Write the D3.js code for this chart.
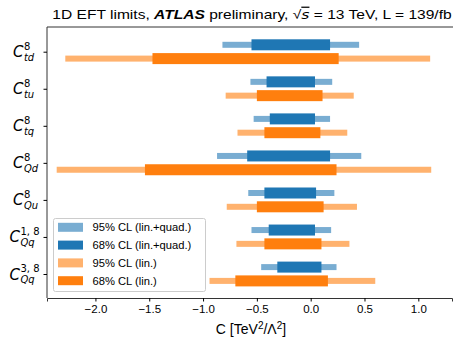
<!DOCTYPE html>
<html>
<head>
<meta charset="utf-8">
<script src="https://cdn.jsdelivr.net/npm/d3@7"></script>
<style>
  body { margin: 0; background: #fff; }
  svg { font-family: "Liberation Sans", Arial, sans-serif; }
</style>
</head>
<body>
<div id="chart"></div>
<script>
// operators, top to bottom: [base, superscript, subscript]
const operators = [
  ['C', '8', 'td'],
  ['C', '8', 'tu'],
  ['C', '8', 'tq'],
  ['C', '8', 'Qd'],
  ['C', '8', 'Qu'],
  ['C', '1, 8', 'Qq'],
  ['C', '3, 8', 'Qq']
];

// [low, high] intervals
const quad95 = [[-0.82, 0.45], [-0.56, 0.20], [-0.53, 0.18], [-0.87, 0.47], [-0.58, 0.22], [-0.55, 0.19], [-0.46, 0.24]];
const quad68 = [[-0.55, 0.18], [-0.41, 0.04], [-0.38, 0.04], [-0.59, 0.18], [-0.43, 0.05], [-0.39, 0.04], [-0.31, 0.10]];
const lin95  = [[-2.28, 1.11], [-0.79, 0.40], [-0.68, 0.34], [-2.36, 1.12], [-0.78, 0.43], [-0.69, 0.36], [-0.94, 0.60]];
const lin68  = [[-1.47, 0.26], [-0.50, 0.11], [-0.43, 0.09], [-1.54, 0.24], [-0.50, 0.12], [-0.43, 0.10], [-0.70, 0.16]];

const xTicks = [-2.0, -1.5, -1.0, -0.5, 0.0, 0.5, 1.0];

const legendItems = [
  { label: '95% CL (lin.+quad.)', color: '#79add2' },
  { label: '68% CL (lin.+quad.)', color: '#1f77b4' },
  { label: '95% CL (lin.)', color: '#ffb26e' },
  { label: '68% CL (lin.)', color: '#ff7f0e' }
];

const width = 453, height = 338;
const margin = { left: 47, right: 1, top: 27, bottom: 40 };

const svg = d3.select('#chart').append('svg')
  .attr('width', width)
  .attr('height', height);

const x = d3.scaleLinear()
  .domain([-2.45, 1.313])
  .range([margin.left, width - margin.right]);

const y = d3.scalePoint()
  .domain(d3.range(operators.length))
  .range([51.7, 274]);

const off = 6.9;

function drawBars(data, cls, color, dy, h) {
  svg.selectAll('.' + cls)
    .data(data)
    .enter()
    .append('rect')
    .attr('class', cls)
    .attr('x', d => x(d[0]))
    .attr('width', d => x(d[1]) - x(d[0]))
    .attr('y', (d, i) => y(i) + dy - h / 2)
    .attr('height', h)
    .attr('fill', color);
}

drawBars(quad95, 'q95', '#79add2', -off, 6);
drawBars(quad68, 'q68', '#1f77b4', -off, 11);
drawBars(lin95, 'l95', '#ffb26e', off, 6);
drawBars(lin68, 'l68', '#ff7f0e', off, 11);

// spines
svg.append('line')
  .attr('x1', margin.left).attr('x2', margin.left)
  .attr('y1', margin.top).attr('y2', height - margin.bottom)
  .attr('stroke', '#333').attr('stroke-width', 1);
svg.append('line')
  .attr('x1', margin.left).attr('x2', width)
  .attr('y1', margin.top).attr('y2', margin.top)
  .attr('stroke', '#333').attr('stroke-width', 1);

// x axis
const xAxis = svg.append('g')
  .attr('transform', `translate(0,${height - margin.bottom})`)
  .call(d3.axisBottom(x).tickValues(xTicks).tickSize(3.5).tickPadding(3)
    .tickFormat(d => d3.format('.1f')(d).replace('-', '\u2212')));
xAxis.select('.domain').attr('stroke', '#333').attr('stroke-width', 1);
xAxis.selectAll('.tick line').attr('stroke', '#000');
xAxis.selectAll('text').attr('font-size', 11.5).attr('fill', '#000')
  .attr('font-family', '"Liberation Sans", Arial, sans-serif');

// y axis ticks
const yAxis = svg.append('g')
  .attr('transform', `translate(${margin.left},0)`)
  .call(d3.axisLeft(y).tickSize(3.5).tickFormat(''));
yAxis.select('.domain').remove();
yAxis.selectAll('.tick line').attr('stroke', '#000');

// y labels: base letter, superscript and subscript as separate texts
operators.forEach((d, i) => {
  const supW = d[1].length > 1 ? 18 : 7;
  const subW = d[2].length * 7.3;
  const scriptW = Math.max(supW, subW);
  const sx = 38.5 - scriptW;
  const yy = y(i) + 5.5;
  svg.append('text')
    .attr('x', sx - 0.5).attr('y', yy)
    .attr('text-anchor', 'end')
    .attr('font-family', '"DejaVu Sans", sans-serif')
    .attr('font-style', 'italic')
    .attr('font-size', 15)
    .text(d[0]);
  svg.append('text')
    .attr('x', sx).attr('y', yy - 7.5)
    .attr('font-family', '"DejaVu Sans", sans-serif')
    .attr('font-size', 10)
    .text(d[1]);
  svg.append('text')
    .attr('x', sx).attr('y', yy + 3.5)
    .attr('font-family', '"DejaVu Sans", sans-serif')
    .attr('font-style', 'italic')
    .attr('font-size', 10)
    .text(d[2]);
});

// title (reference is horizontally stretched; fit it to its width)
const titleCx = 252;
const title = svg.append('text')
  .attr('x', titleCx)
  .attr('y', 19)
  .attr('text-anchor', 'middle')
  .attr('font-size', 12.5)
  .attr('fill', '#000');
title.append('tspan').text('1D EFT limits, ');
title.append('tspan').attr('font-weight', 'bold').attr('font-style', 'italic').text('ATLAS');
title.append('tspan').text(' preliminary, \u221A');
title.append('tspan').attr('font-family', '"DejaVu Sans", sans-serif').attr('font-style', 'italic')
  .attr('text-decoration', 'overline').text('s');
title.append('tspan').text(' = 13 TeV, L = 139/fb');
const tw = title.node().getBBox().width;
const sc = 400 / tw;
title.attr('transform', `translate(${titleCx},0) scale(${sc},1) translate(${-titleCx},0)`);

// x label
const xl = svg.append('text')
  .attr('x', 251)
  .attr('y', 334)
  .attr('text-anchor', 'middle')
  .attr('font-size', 14)
  .attr('fill', '#000');
xl.append('tspan').text('C [TeV');
xl.append('tspan').attr('dy', -5).attr('font-size', 10).text('2');
xl.append('tspan').attr('dy', 5).text('/\u039B');
xl.append('tspan').attr('dy', -5).attr('font-size', 10).text('2');
xl.append('tspan').attr('dy', 5).text(']');

// legend
const legend = svg.append('g');
legend.append('rect')
  .attr('x', 53.5).attr('y', 218.5)
  .attr('width', 152).attr('height', 73)
  .attr('rx', 2)
  .attr('fill', 'rgba(255,255,255,0.8)')
  .attr('stroke', '#ccc');

const rowY = d3.scaleLinear().domain([0, 3]).range([227.3, 280.7]);
legendItems.forEach((item, i) => {
  legend.append('rect')
    .attr('x', 58).attr('y', rowY(i) - 4.5)
    .attr('width', 25).attr('height', 9)
    .attr('fill', item.color);
  legend.append('text')
    .attr('x', 92.5).attr('y', rowY(i) + 4)
    .attr('font-size', 11.2)
    .attr('fill', '#000')
    .text(item.label);
});
</script>
</body>
</html>
